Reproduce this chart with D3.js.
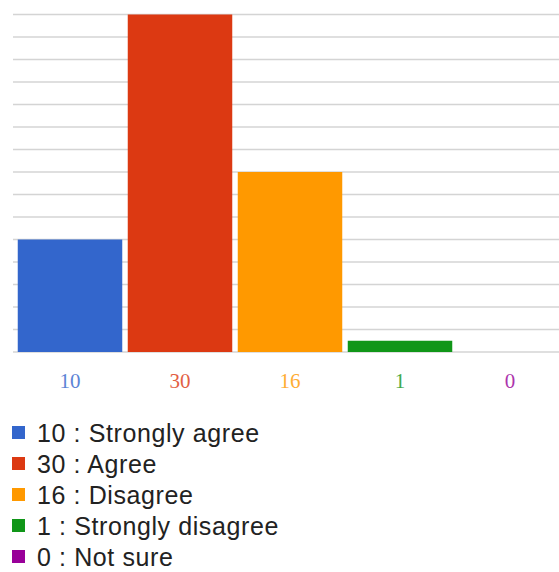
<!DOCTYPE html>
<html>
<head>
<meta charset="utf-8">
<script src="https://cdn.jsdelivr.net/npm/d3@7"></script>
<style>
  html, body { margin: 0; padding: 0; background: #fff; }
  svg { display: block; }
</style>
</head>
<body>
<svg id="chart" width="559" height="572"></svg>
<script>
// Survey responses
const categories = ["Strongly agree", "Agree", "Disagree", "Strongly disagree", "Not sure"];
const counts = [10, 30, 16, 1, 0];
const colors = ["#3366cc", "#dc3912", "#ff9900", "#109618", "#990099"];
const gridTicks = d3.range(0, 31, 2);

const svg = d3.select("#chart");

const x = d3.scaleBand()
  .domain(categories)
  .range([15, 565])
  .paddingInner(0.05)
  .paddingOuter(0.025);

const y = d3.scaleLinear()
  .domain([0, 30])
  .range([352, 14.5]);

// horizontal gridlines
svg.append("g")
  .selectAll("line")
  .data(gridTicks)
  .join("line")
  .attr("x1", 13)
  .attr("x2", 559)
  .attr("y1", d => y(d))
  .attr("y2", d => y(d))
  .attr("stroke", "#d4d4d4")
  .attr("stroke-width", 1.3);

// bars
svg.append("g")
  .selectAll("rect")
  .data(categories)
  .join("rect")
  .attr("x", d => x(d))
  .attr("width", x.bandwidth())
  .attr("y", (d, i) => y(counts[i]))
  .attr("height", (d, i) => y(0) - y(counts[i]))
  .attr("fill", (d, i) => colors[i]);

// value labels under each bar
svg.append("g")
  .selectAll("text")
  .data(categories)
  .join("text")
  .attr("x", d => x(d) + x.bandwidth() / 2)
  .attr("y", 388)
  .attr("text-anchor", "middle")
  .attr("font-family", "'Liberation Serif', 'DejaVu Serif', serif")
  .attr("font-size", 21)
  .attr("fill", (d, i) => colors[i])
  .attr("opacity", 0.8)
  .text((d, i) => counts[i]);

// legend
const legend = svg.append("g")
  .selectAll("g")
  .data(categories)
  .join("g")
  .attr("transform", (d, i) => `translate(12, ${433 + i * 31})`);

legend.append("rect")
  .attr("x", 0)
  .attr("y", -7)
  .attr("width", 13)
  .attr("height", 13)
  .attr("fill", (d, i) => colors[i]);

legend.append("text")
  .attr("x", 25)
  .attr("y", 0)
  .attr("dy", "0.36em")
  .attr("font-family", "'Liberation Sans', Arial, sans-serif")
  .attr("font-size", 25)
  .attr("letter-spacing", 0.6)
  .attr("fill", "#222")
  .text((d, i) => `${counts[i]} : ${d}`);
</script>
</body>
</html>
